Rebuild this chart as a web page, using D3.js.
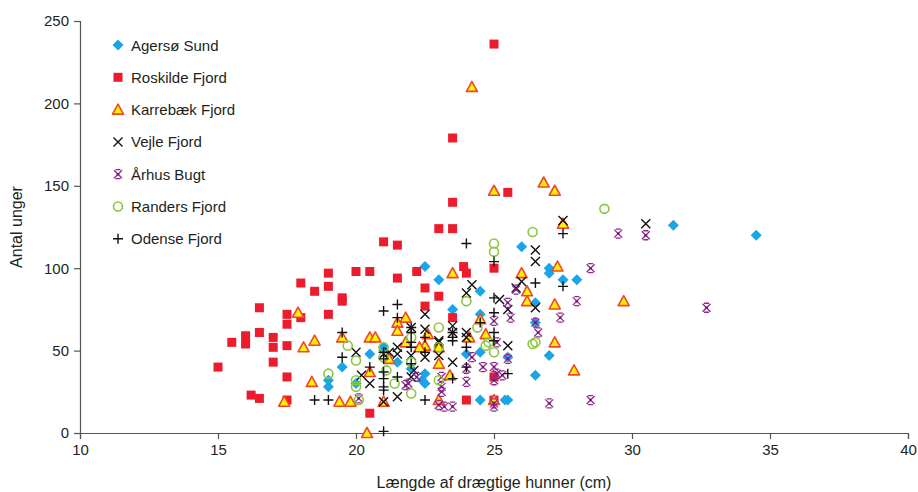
<!DOCTYPE html>
<html>
<head>
<meta charset="utf-8">
<script src="https://cdn.jsdelivr.net/npm/d3@7"></script>
<style>
  body { margin: 0; background: #fff; }
  svg { font-family: "Liberation Sans", Arial, sans-serif; }
</style>
</head>
<body>
<div id="chart"></div>
<script>
// [length cm, number of young]
const agersoSund = [[31.5,126],[34.5,120],[26.0,113],[27.0,100],[27.0,97],[27.5,93],[28.0,93],[26.5,79],[26.5,67],[27.0,47],[26.5,35],[25.4,20],[22.5,101],[23.0,93],[24.5,86],[23.5,75],[24.5,72],[20.5,48],[19.5,40],[21.5,43],[21.0,52],[22.0,39],[22.5,30],[24.0,48],[24.5,49],[25.5,46],[25.5,20],[24.5,20],[22.5,36],[19.0,32],[19.0,28],[20.0,30],[22.4,32]];
const roskildeFjord = [[15.0,40],[15.5,55],[16.0,59],[16.0,54],[16.5,76],[16.5,61],[17.0,58],[17.0,52],[17.0,43],[17.5,72],[17.5,66],[17.5,53],[17.5,34],[18.0,91],[18.0,70],[18.5,86],[19.0,97],[19.0,89],[19.0,72],[16.2,23],[16.5,21],[17.5,20],[19.5,82],[19.5,80],[20.0,98],[20.5,98],[21.0,116],[21.5,114],[22.2,98],[21.5,94],[22.5,88],[23.0,83],[22.5,77],[23.5,70],[23.0,124],[23.5,124],[23.9,101],[24.0,97],[25.0,100],[25.0,34],[24.0,20],[25.0,20],[20.5,12],[25.0,236],[23.5,179],[25.5,146],[23.5,140]];
const karrebaekFjord = [[24.2,210],[25.0,147],[26.8,152],[27.2,147],[27.5,127],[23.5,97],[26.0,97],[27.3,101],[26.2,86],[26.2,80],[27.2,78],[29.7,80],[27.2,55],[27.9,38],[24.5,69],[24.7,60],[24.1,58],[21.8,70],[21.5,67],[21.5,62],[20.5,58],[20.7,58],[19.5,58],[22.5,53],[21.8,55],[23.0,52],[23.0,42],[21.2,45],[23.4,35],[20.5,37],[19.4,19],[19.8,19],[21.0,19],[23.0,20],[20.4,0],[25.0,20],[17.9,73],[18.5,56],[18.1,52],[18.4,31],[17.4,19],[22.6,60],[22.3,52]];
const vejleFjord = [[27.5,129],[30.5,127],[26.5,111],[26.5,104],[24.2,90],[26.0,92],[25.8,88],[26.5,76],[25.5,53],[25.5,75],[24.0,85],[25.2,81],[22.5,72],[22.0,64],[22.5,63],[23.5,65],[23.5,61],[23.0,56],[24.0,58],[20.0,49],[21.5,52],[21.5,48],[22.0,47],[22.5,46],[23.5,43],[23.0,47],[20.2,35],[20.5,30],[21.5,22],[21.0,19],[22.0,34],[21.0,48],[23.0,55],[22.1,38],[21.2,49],[24.0,61]];
const aarhusBugt = [[32.7,76],[29.5,121],[30.5,120],[28.5,100],[28.0,80],[27.4,70],[26.6,61],[26.5,67],[25.8,87],[25.5,79],[25.6,70],[25.5,45],[25.3,35],[27.0,18],[28.5,20],[25.0,68],[25.1,55],[24.2,46],[24.6,40],[25.0,40],[25.1,36],[25.0,32],[24.0,31],[23.5,16],[25.0,16],[24.0,39],[23.1,34],[23.1,25],[23.2,16],[21.9,30],[22.2,34],[21.8,29],[23.1,28],[20.1,21],[23.0,17],[25.0,18]];
const randersFjord = [[29.0,136],[26.4,122],[25.0,115],[25.0,110],[26.4,54],[24.0,80],[23.0,64],[24.4,64],[24.7,53],[25.0,49],[22.0,58],[21.0,52],[21.0,46],[22.0,43],[23.0,52],[23.0,32],[21.4,30],[22.0,24],[20.0,32],[20.0,28],[20.1,20],[19.7,53],[24.8,55],[26.5,55],[20.0,44],[21.1,38],[19.0,36]];
const odenseFjord = [[24.0,115],[25.0,104],[27.5,121],[26.5,91],[27.5,89],[25.5,36],[25.0,82],[25.0,73],[21.0,74],[21.5,78],[21.5,70],[22.0,64],[22.5,58],[22.5,49],[23.5,61],[23.5,56],[24.0,52],[19.5,61],[19.5,46],[20.5,40],[21.0,37],[21.0,33],[21.0,28],[21.5,34],[22.0,42],[22.5,20],[21.0,1],[25.0,56],[25.0,61],[24.5,67],[24.0,40],[23.5,33],[21.0,49],[21.0,45],[22.0,61],[22.0,55],[22.0,52],[18.5,20],[19.0,20],[21.0,26],[23.5,58]];

const seriesNames = ['Agersø Sund', 'Roskilde Fjord', 'Karrebæk Fjord', 'Vejle Fjord', 'Århus Bugt', 'Randers Fjord', 'Odense Fjord'];
const xTicks = [10, 15, 20, 25, 30, 35, 40];
const yTicks = [0, 50, 100, 150, 200, 250];

const series = [
    {name: seriesNames[0], data: agersoSund, marker: 'diamond'},
    {name: seriesNames[1], data: roskildeFjord, marker: 'square'},
    {name: seriesNames[2], data: karrebaekFjord, marker: 'triangle'},
    {name: seriesNames[3], data: vejleFjord, marker: 'cross'},
    {name: seriesNames[4], data: aarhusBugt, marker: 'star'},
    {name: seriesNames[5], data: randersFjord, marker: 'circle'},
    {name: seriesNames[6], data: odenseFjord, marker: 'plus'}
];

const width = 918, height = 492;
const margin = {top: 21, right: 10, bottom: 59, left: 80};

const svg = d3.select('#chart').append('svg')
    .attr('width', width)
    .attr('height', height);

const x = d3.scaleLinear().domain([10, 40]).range([margin.left, width - margin.right]);
const y = d3.scaleLinear().domain([0, 250]).range([height - margin.bottom, margin.top]);

// draws one marker centred on 0,0
function drawMarker(g, type) {
    if (type === 'diamond') {
        g.append('path').attr('d', 'M0,-5.5L5.5,0L0,5.5L-5.5,0Z').attr('fill', '#1aa6e6');
    } else if (type === 'square') {
        g.append('rect').attr('x', -4.5).attr('y', -4.5).attr('width', 9).attr('height', 9).attr('fill', '#ec1c2c');
    } else if (type === 'triangle') {
        g.append('path').attr('d', 'M0,-5.5L5.5,4.5L-5.5,4.5Z')
            .attr('fill', '#fff200').attr('stroke', '#f1462c').attr('stroke-width', 1.6)
            .attr('stroke-linejoin', 'round');
    } else if (type === 'cross') {
        g.append('path').attr('d', 'M-4.5,-4.5L4.5,4.5M4.5,-4.5L-4.5,4.5')
            .attr('stroke', '#111').attr('stroke-width', 1.4).attr('fill', 'none');
    } else if (type === 'star') {
        g.append('path').attr('d', 'M-4,-4L4,4M4,-4L-4,4M-2.5,-4.5H2.5M-2.5,4.5H2.5')
            .attr('stroke', '#93278f').attr('stroke-width', 1.3).attr('fill', 'none');
        g.append('circle').attr('r', 1.3).attr('fill', '#6b1d68');
    } else if (type === 'circle') {
        g.append('circle').attr('r', 4.5).attr('fill', 'none')
            .attr('stroke', '#8cc63f').attr('stroke-width', 1.6);
    } else if (type === 'plus') {
        g.append('path').attr('d', 'M-5,0H5M0,-5V5')
            .attr('stroke', '#111').attr('stroke-width', 1.4).attr('fill', 'none');
    }
}

// axes
const xAxis = svg.append('g')
    .attr('transform', `translate(0,${y(0)})`)
    .call(d3.axisBottom(x).tickValues(xTicks).tickSize(6).tickPadding(5));
const yAxis = svg.append('g')
    .attr('transform', `translate(${x(10)},0)`)
    .call(d3.axisLeft(y).tickValues(yTicks).tickSize(6).tickPadding(5));

[xAxis, yAxis].forEach(a => {
    a.select('.domain').attr('stroke', '#555').attr('stroke-width', 1.2);
    a.selectAll('.tick line').attr('stroke', '#555').attr('stroke-width', 1.2);
    a.selectAll('.tick text').attr('font-size', '15px').attr('fill', '#231f20')
        .attr('font-family', '"Liberation Sans", Arial, sans-serif');
});

// points
series.forEach(s => {
    svg.append('g').selectAll('g')
        .data(s.data)
        .enter().append('g')
        .attr('transform', d => `translate(${x(d[0])},${y(d[1])})`)
        .each(function() { drawMarker(d3.select(this), s.marker); });
});

// axis titles
svg.append('text')
    .attr('x', (x(10) + x(40)) / 2)
    .attr('y', 488)
    .attr('text-anchor', 'middle')
    .attr('font-size', '16px')
    .attr('fill', '#231f20')
    .text('Længde af drægtige hunner (cm)');

svg.append('text')
    .attr('transform', `translate(22,${(y(0) + y(250)) / 2}) rotate(-90)`)
    .attr('text-anchor', 'middle')
    .attr('font-size', '16px')
    .attr('fill', '#231f20')
    .text('Antal unger');

// legend
const legend = svg.append('g').attr('transform', 'translate(118,45)');
const rows = legend.selectAll('g')
    .data(series)
    .enter().append('g')
    .attr('transform', (d, i) => `translate(0,${i * 32.3})`);
rows.each(function(d) { drawMarker(d3.select(this), d.marker); });
rows.append('text')
    .attr('x', 13)
    .attr('y', 5.5)
    .attr('font-size', '15px')
    .attr('fill', '#231f20')
    .text(d => d.name);
</script>
</body>
</html>
